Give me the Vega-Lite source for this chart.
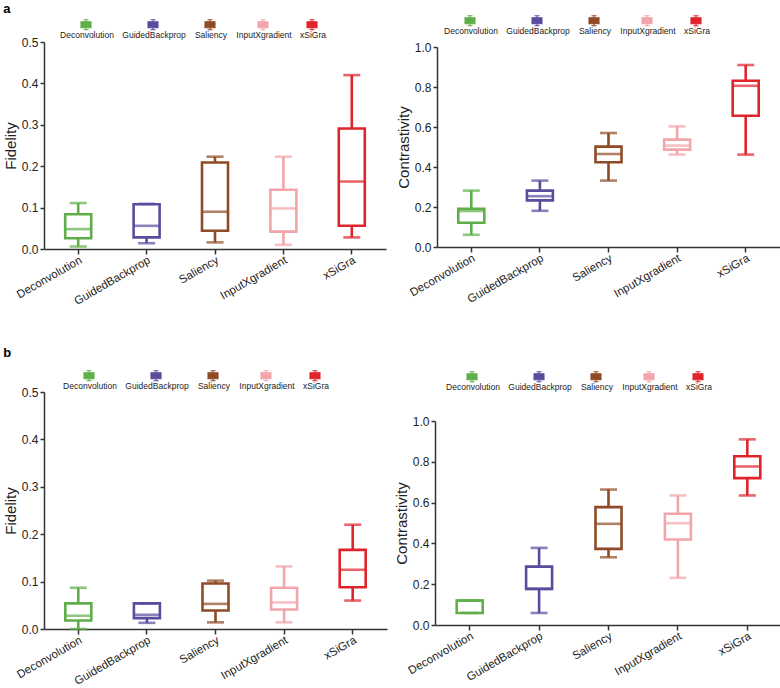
{
  "$schema": "https://vega.github.io/schema/vega-lite/v6.json",
  "padding": {"left": 3, "top": 3, "right": 0, "bottom": 0},
  "datasets": {
    "fa": [
      {"method": "Deconvolution", "lo": 0.006, "q1": 0.026, "med": 0.048, "q3": 0.084, "hi": 0.111},
      {"method": "GuidedBackprop", "lo": 0.014, "q1": 0.028, "med": 0.056, "q3": 0.108, "hi": 0.109},
      {"method": "Saliency", "lo": 0.016, "q1": 0.044, "med": 0.09, "q3": 0.209, "hi": 0.223},
      {"method": "InputXgradient", "lo": 0.01, "q1": 0.042, "med": 0.098, "q3": 0.143, "hi": 0.223},
      {"method": "xSiGra", "lo": 0.028, "q1": 0.056, "med": 0.163, "q3": 0.291, "hi": 0.42}
    ],
    "ca": [
      {"method": "Deconvolution", "lo": 0.061, "q1": 0.121, "med": 0.18, "q3": 0.191, "hi": 0.282},
      {"method": "GuidedBackprop", "lo": 0.181, "q1": 0.233, "med": 0.254, "q3": 0.282, "hi": 0.332},
      {"method": "Saliency", "lo": 0.332, "q1": 0.424, "med": 0.465, "q3": 0.502, "hi": 0.57},
      {"method": "InputXgradient", "lo": 0.462, "q1": 0.487, "med": 0.507, "q3": 0.537, "hi": 0.603},
      {"method": "xSiGra", "lo": 0.462, "q1": 0.656, "med": 0.806, "q3": 0.831, "hi": 0.91}
    ],
    "fb": [
      {"method": "Deconvolution", "lo": 0.0, "q1": 0.018, "med": 0.028, "q3": 0.054, "hi": 0.087},
      {"method": "GuidedBackprop", "lo": 0.013, "q1": 0.023, "med": 0.03, "q3": 0.054, "hi": 0.054},
      {"method": "Saliency", "lo": 0.014, "q1": 0.039, "med": 0.053, "q3": 0.096, "hi": 0.102},
      {"method": "InputXgradient", "lo": 0.014, "q1": 0.041, "med": 0.056, "q3": 0.087, "hi": 0.132},
      {"method": "xSiGra", "lo": 0.06, "q1": 0.088, "med": 0.125, "q3": 0.167, "hi": 0.22}
    ],
    "cb": [
      {"method": "Deconvolution", "lo": 0.059, "q1": 0.059, "med": 0.12, "q3": 0.12, "hi": 0.12},
      {"method": "GuidedBackprop", "lo": 0.059, "q1": 0.177, "med": 0.177, "q3": 0.286, "hi": 0.378},
      {"method": "Saliency", "lo": 0.332, "q1": 0.373, "med": 0.496, "q3": 0.578, "hi": 0.664},
      {"method": "InputXgradient", "lo": 0.231, "q1": 0.419, "med": 0.499, "q3": 0.545, "hi": 0.635},
      {"method": "xSiGra", "lo": 0.635, "q1": 0.72, "med": 0.777, "q3": 0.827, "hi": 0.91}
    ]
  },
  "resolve": {"scale": {"color": "independent"}, "legend": {"color": "independent"}},
  "vconcat": [
    {
      "title": {"text": "a", "anchor": "start", "fontSize": 13, "fontWeight": "bold", "offset": 9},
      "spacing": 10,
      "resolve": {"scale": {"color": "independent"}, "legend": {"color": "independent"}},
      "hconcat": [
        {
          "width": 342, "height": 207,
          "data": {"name": "fa"},
          "encoding": {
            "x": {"field": "method", "type": "nominal", "sort": ["Deconvolution", "GuidedBackprop", "Saliency", "InputXgradient", "xSiGra"], "scale": {"paddingInner": 0, "paddingOuter": 0}, "axis": {"title": null, "labelAngle": -30}}
          },
          "layer": [
            {"mark": {"type": "bar", "filled": false, "size": 26, "strokeWidth": 2.6}, "encoding": {"y": {"field": "q1", "type": "quantitative", "scale": {"domain": [0, 0.5], "nice": false}, "axis": {"title": "Fidelity", "values": [0, 0.1, 0.2, 0.3, 0.4, 0.5], "format": ".1f"}}, "y2": {"field": "q3"},
              "color": {"field": "method", "type": "nominal", "scale": {"domain": ["Deconvolution", "GuidedBackprop", "Saliency", "InputXgradient", "xSiGra"], "range": ["#5fae4a", "#5b4b9d", "#8e4b25", "#f2a5aa", "#e0242b"]},
                "legend": {"title": null, "legendX": 36, "legendY": -13}}}},
            {"mark": {"type": "rule", "strokeWidth": 2.6}, "encoding": {"y": {"field": "q3", "type": "quantitative"}, "y2": {"field": "hi"}, "color": {"field": "method", "type": "nominal", "legend": null}}},
            {"mark": {"type": "rule", "strokeWidth": 2.6}, "encoding": {"y": {"field": "lo", "type": "quantitative"}, "y2": {"field": "q1"}, "color": {"field": "method", "type": "nominal", "legend": null}}},
            {"mark": {"type": "tick", "size": 26, "thickness": 2.6}, "encoding": {"y": {"field": "med", "type": "quantitative"}, "color": {"field": "method", "type": "nominal", "legend": null}}},
            {"mark": {"type": "tick", "size": 17, "thickness": 2.6}, "encoding": {"y": {"field": "hi", "type": "quantitative"}, "color": {"field": "method", "type": "nominal", "legend": null}}},
            {"mark": {"type": "tick", "size": 17, "thickness": 2.6}, "encoding": {"y": {"field": "lo", "type": "quantitative"}, "color": {"field": "method", "type": "nominal", "legend": null}}}
          ]
        },
        {
          "width": 343, "height": 205,
          "data": {"name": "ca"},
          "encoding": {
            "x": {"field": "method", "type": "nominal", "sort": ["Deconvolution", "GuidedBackprop", "Saliency", "InputXgradient", "xSiGra"], "scale": {"paddingInner": 0, "paddingOuter": 0}, "axis": {"title": null, "labelAngle": -30}}
          },
          "layer": [
            {"mark": {"type": "bar", "filled": false, "size": 26, "strokeWidth": 2.6}, "encoding": {"y": {"field": "q1", "type": "quantitative", "scale": {"domain": [0, 1], "nice": false, "range": [205, 5]}, "axis": {"title": "Contrastivity", "values": [0, 0.2, 0.4, 0.6, 0.8, 1.0], "format": ".1f"}}, "y2": {"field": "q3"},
              "color": {"field": "method", "type": "nominal", "scale": {"domain": ["Deconvolution", "GuidedBackprop", "Saliency", "InputXgradient", "xSiGra"], "range": ["#5fae4a", "#5b4b9d", "#8e4b25", "#f2a5aa", "#e0242b"]},
                "legend": {"title": null, "legendX": 27, "legendY": -17}}}},
            {"mark": {"type": "rule", "strokeWidth": 2.6}, "encoding": {"y": {"field": "q3", "type": "quantitative"}, "y2": {"field": "hi"}, "color": {"field": "method", "type": "nominal", "legend": null}}},
            {"mark": {"type": "rule", "strokeWidth": 2.6}, "encoding": {"y": {"field": "lo", "type": "quantitative"}, "y2": {"field": "q1"}, "color": {"field": "method", "type": "nominal", "legend": null}}},
            {"mark": {"type": "tick", "size": 26, "thickness": 2.6}, "encoding": {"y": {"field": "med", "type": "quantitative"}, "color": {"field": "method", "type": "nominal", "legend": null}}},
            {"mark": {"type": "tick", "size": 17, "thickness": 2.6}, "encoding": {"y": {"field": "hi", "type": "quantitative"}, "color": {"field": "method", "type": "nominal", "legend": null}}},
            {"mark": {"type": "tick", "size": 17, "thickness": 2.6}, "encoding": {"y": {"field": "lo", "type": "quantitative"}, "color": {"field": "method", "type": "nominal", "legend": null}}}
          ]
        }
      ]
    },
    {
      "title": {"text": "b", "anchor": "start", "fontSize": 13, "fontWeight": "bold", "offset": 20},
      "spacing": 7,
      "resolve": {"scale": {"color": "independent"}, "legend": {"color": "independent"}},
      "hconcat": [
        {
          "width": 343, "height": 237,
          "data": {"name": "fb"},
          "encoding": {
            "x": {"field": "method", "type": "nominal", "sort": ["Deconvolution", "GuidedBackprop", "Saliency", "InputXgradient", "xSiGra"], "scale": {"paddingInner": 0, "paddingOuter": 0}, "axis": {"title": null, "labelAngle": -30}}
          },
          "layer": [
            {"mark": {"type": "bar", "filled": false, "size": 26, "strokeWidth": 2.6}, "encoding": {"y": {"field": "q1", "type": "quantitative", "scale": {"domain": [0, 0.5], "nice": false}, "axis": {"title": "Fidelity", "values": [0, 0.1, 0.2, 0.3, 0.4, 0.5], "format": ".1f"}}, "y2": {"field": "q3"},
              "color": {"field": "method", "type": "nominal", "scale": {"domain": ["Deconvolution", "GuidedBackprop", "Saliency", "InputXgradient", "xSiGra"], "range": ["#5fae4a", "#5b4b9d", "#8e4b25", "#f2a5aa", "#e0242b"]},
                "legend": {"title": null, "legendX": 39, "legendY": -12}}}},
            {"mark": {"type": "rule", "strokeWidth": 2.6}, "encoding": {"y": {"field": "q3", "type": "quantitative"}, "y2": {"field": "hi"}, "color": {"field": "method", "type": "nominal", "legend": null}}},
            {"mark": {"type": "rule", "strokeWidth": 2.6}, "encoding": {"y": {"field": "lo", "type": "quantitative"}, "y2": {"field": "q1"}, "color": {"field": "method", "type": "nominal", "legend": null}}},
            {"mark": {"type": "tick", "size": 26, "thickness": 2.6}, "encoding": {"y": {"field": "med", "type": "quantitative"}, "color": {"field": "method", "type": "nominal", "legend": null}}},
            {"mark": {"type": "tick", "size": 17, "thickness": 2.6}, "encoding": {"y": {"field": "hi", "type": "quantitative"}, "color": {"field": "method", "type": "nominal", "legend": null}}},
            {"mark": {"type": "tick", "size": 17, "thickness": 2.6}, "encoding": {"y": {"field": "lo", "type": "quantitative"}, "color": {"field": "method", "type": "nominal", "legend": null}}}
          ]
        },
        {
          "width": 347, "height": 233,
          "data": {"name": "cb"},
          "encoding": {
            "x": {"field": "method", "type": "nominal", "sort": ["Deconvolution", "GuidedBackprop", "Saliency", "InputXgradient", "xSiGra"], "scale": {"paddingInner": 0, "paddingOuter": 0}, "axis": {"title": null, "labelAngle": -30}}
          },
          "layer": [
            {"mark": {"type": "bar", "filled": false, "size": 26, "strokeWidth": 2.6}, "encoding": {"y": {"field": "q1", "type": "quantitative", "scale": {"domain": [0, 1], "nice": false, "range": [233, 29]}, "axis": {"title": "Contrastivity", "values": [0, 0.2, 0.4, 0.6, 0.8, 1.0], "format": ".1f"}}, "y2": {"field": "q3"},
              "color": {"field": "method", "type": "nominal", "scale": {"domain": ["Deconvolution", "GuidedBackprop", "Saliency", "InputXgradient", "xSiGra"], "range": ["#5fae4a", "#5b4b9d", "#8e4b25", "#f2a5aa", "#e0242b"]},
                "legend": {"title": null, "legendX": 31, "legendY": -11}}}},
            {"mark": {"type": "rule", "strokeWidth": 2.6}, "encoding": {"y": {"field": "q3", "type": "quantitative"}, "y2": {"field": "hi"}, "color": {"field": "method", "type": "nominal", "legend": null}}},
            {"mark": {"type": "rule", "strokeWidth": 2.6}, "encoding": {"y": {"field": "lo", "type": "quantitative"}, "y2": {"field": "q1"}, "color": {"field": "method", "type": "nominal", "legend": null}}},
            {"mark": {"type": "tick", "size": 26, "thickness": 2.6}, "encoding": {"y": {"field": "med", "type": "quantitative"}, "color": {"field": "method", "type": "nominal", "legend": null}}},
            {"mark": {"type": "tick", "size": 17, "thickness": 2.6}, "encoding": {"y": {"field": "hi", "type": "quantitative"}, "color": {"field": "method", "type": "nominal", "legend": null}}},
            {"mark": {"type": "tick", "size": 17, "thickness": 2.6}, "encoding": {"y": {"field": "lo", "type": "quantitative"}, "color": {"field": "method", "type": "nominal", "legend": null}}}
          ]
        }
      ]
    }
  ],
  "spacing": 40,
  "config": {
    "view": {"stroke": null},
    "font": "Liberation Sans",
    "axis": {"grid": false, "domainColor": "#333", "domainWidth": 1.5, "tickColor": "#333", "tickWidth": 1.5, "labelColor": "#222", "labelFontSize": 12, "titleFontSize": 15, "titleFontWeight": "normal", "titleColor": "#222", "titlePadding": 3, "labelOverlap": false},
    "axisX": {"tickSize": 5, "labelPadding": 0, "labelFontSize": 11.5},
    "axisY": {"tickSize": 4, "labelPadding": 2},
    "legend": {"orient": "none", "direction": "horizontal", "columns": 5, "symbolType": "M-1,-2.7H1V-1.5H-1Z M-1,-2.1H1 M0,-2.7V-3.1 M-0.5,-3.1H0.5 M0,-1.5V-1.1 M-0.5,-1.1H0.5", "symbolSize": 100, "symbolStrokeWidth": 1.1, "symbolFillColor": "white", "labelFontSize": 8.5, "labelAlign": "center", "labelOffset": -5, "labelColor": "#222", "columnPadding": 8, "padding": 0}
  }
}
